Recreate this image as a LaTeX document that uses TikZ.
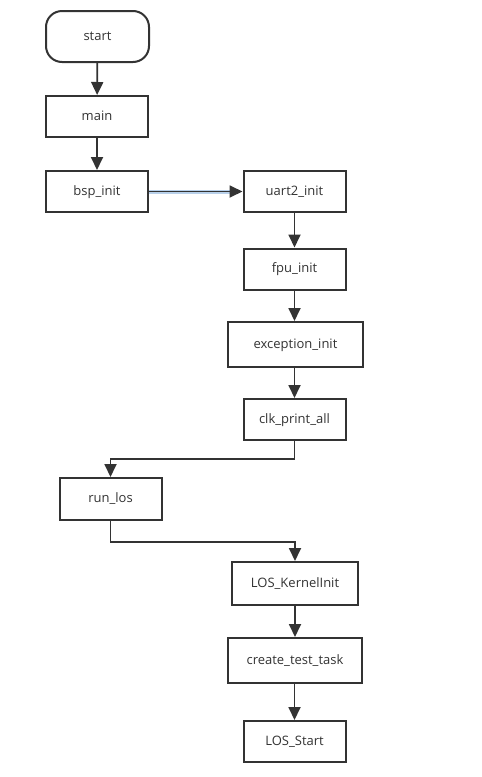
\documentclass[tikz,border=0pt]{standalone}
\usepackage{fontspec}
\setmainfont{Open Sans}
\usetikzlibrary{arrows.meta}
\definecolor{ln}{HTML}{333333}
\definecolor{tx}{HTML}{333333}
\definecolor{hl}{HTML}{B8D0EA}
\begin{document}
\begin{tikzpicture}[x=1pt,y=-1pt,
  box/.style={draw=ln, line width=2pt, fill=white, text=tx, minimum height=41pt, minimum width=102pt, inner sep=0pt, text height=10pt, text depth=3pt, font=\fontsize{13}{15}\selectfont},
  term/.style={box, rounded corners=16pt, minimum height=51pt, minimum width=103pt},
  conn/.style={draw=ln, line width=1.8pt, -{Triangle[length=13pt,width=12pt]}}]
\useasboundingbox (0,0) rectangle (482,777);
\node[term] (start) at (97.5,36.5) {start};
\node[box] (main) at (97,116.5) {main};
\node[box] (bsp) at (97,191.5) {bsp\_init};
\node[box] (uart) at (294.5,191.5) {uart2\_init};
\node[box] (fpu) at (294.5,269) {fpu\_init};
\node[box, minimum width=135pt, minimum height=45pt] (exc) at (295.5,344.5) {exception\_init};
\node[box] (clk) at (294.5,419.5) {clk\_print\_all};
\node[box, minimum height=42pt] (run) at (110.5,499) {run\_los};
\node[box, minimum width=126pt, minimum height=43pt] (kern) at (295,583.5) {LOS\_KernelInit};
\node[box, minimum width=134pt, minimum height=45pt] (task) at (295,660.5) {create\_test\_task};
\node[box] (los) at (294.5,741.5) {LOS\_Start};
\coordinate (c1) at (294.5,459);
\coordinate (c2) at (110.5,459);
\coordinate (c3) at (110.5,542);
\coordinate (c4) at (295,542);
\draw[conn] (start) -- (main);
\draw[conn] (main) -- (bsp);
\draw[draw=hl, line width=4pt, shorten >=8pt] (bsp.east) -- (uart.west);
\draw[conn] (bsp) -- (uart);
\draw[conn] (uart) -- (fpu);
\draw[conn] (fpu) -- (exc.north -| fpu);
\draw[conn] (exc.south -| clk) -- (clk);
\draw[conn] (clk.south) -- (c1) -- (c2) -- (run.north);
\draw[conn] (run.south) -- (c3) -- (c4) -- (kern.north);
\draw[conn] (kern) -- (task);
\draw[conn] (task.south -| los) -- (los);
\end{tikzpicture}
\end{document}
